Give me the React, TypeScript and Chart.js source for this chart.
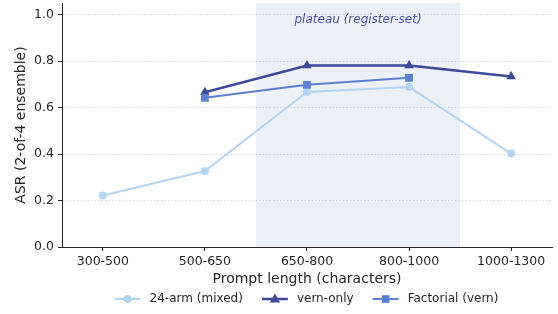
import React, { useEffect, useRef } from "react";
import { Chart, registerables } from "chart.js";

Chart.register(...registerables);

const categories = ["300-500", "500-650", "650-800", "800-1000", "1000-1300"];
const armMixed = [0.222, 0.327, 0.667, 0.688, 0.402];
const vernOnly = [null, 0.666, 0.781, 0.781, 0.734];
const factorialVern = [null, 0.642, 0.698, 0.728, null];
const yTicks = [0, 0.2, 0.4, 0.6, 0.8, 1.0];
const seriesNames = ["24-arm (mixed)", "vern-only", "Factorial (vern)"];
const plateauLabel = "plateau (register-set)";
const plateauRange = [1.5, 3.5];

const C_LIGHT = "#b5d4f4";
const C_DARK = "#3d4a9a";
const C_MED = "#5b80d1";
const TEXT = "#262626";
const FONT = "'DejaVu Sans', sans-serif";

function drawMarker(ctx: CanvasRenderingContext2D, style: string, x: number, y: number, r: number, color: string) {
  ctx.save();
  ctx.fillStyle = color;
  ctx.beginPath();
  if (style === "circle") {
    ctx.arc(x, y, r, 0, Math.PI * 2);
  } else if (style === "triangle") {
    ctx.moveTo(x, y - r);
    ctx.lineTo(x + r * 0.95, y + r * 0.65);
    ctx.lineTo(x - r * 0.95, y + r * 0.65);
    ctx.closePath();
  } else {
    const s = r * 0.85;
    ctx.rect(x - s, y - s, 2 * s, 2 * s);
  }
  ctx.fill();
  ctx.restore();
}

const decorPlugin = {
  id: "decor",
  beforeDraw(chart: any) {
    const { ctx, chartArea, scales } = chart;
    const x0 = scales.x.getPixelForValue(plateauRange[0]);
    const x1 = scales.x.getPixelForValue(plateauRange[1]);
    ctx.save();
    ctx.fillStyle = "#ebf1f7";
    ctx.fillRect(x0, chartArea.top, x1 - x0, chartArea.bottom - chartArea.top);
    ctx.restore();
  },
  afterDraw(chart: any) {
    const { ctx, scales } = chart;
    ctx.save();
    ctx.font = `italic 12px ${FONT}`;
    ctx.fillStyle = "#4a55a2";
    ctx.textAlign = "center";
    ctx.textBaseline = "middle";
    ctx.fillText(plateauLabel, scales.x.getPixelForValue((plateauRange[0] + plateauRange[1]) / 2), scales.y.getPixelForValue(0.978));
    ctx.restore();

    // legend
    const items = [
      { name: seriesNames[0], color: C_LIGHT, marker: "circle", lw: 2, r: 4 },
      { name: seriesNames[1], color: C_DARK, marker: "triangle", lw: 2.5, r: 5.5 },
      { name: seriesNames[2], color: C_MED, marker: "rect", lw: 2, r: 4.5 },
    ];
    ctx.save();
    ctx.font = `12px ${FONT}`;
    const lineW = 26;
    const gapLT = 9;
    const gapItems = 19;
    let total = 0;
    items.forEach((it, i) => {
      total += lineW + gapLT + ctx.measureText(it.name).width;
      if (i < items.length - 1) total += gapItems;
    });
    let x = 306.5 - total / 2;
    const y = 299;
    items.forEach((it) => {
      ctx.strokeStyle = it.color;
      ctx.lineWidth = it.lw;
      ctx.beginPath();
      ctx.moveTo(x, y);
      ctx.lineTo(x + lineW, y);
      ctx.stroke();
      drawMarker(ctx, it.marker, x + lineW / 2, y, it.r, it.color);
      x += lineW + gapLT;
      ctx.fillStyle = TEXT;
      ctx.textAlign = "left";
      ctx.textBaseline = "middle";
      ctx.fillText(it.name, x, y);
      x += ctx.measureText(it.name).width + gapItems;
    });
    ctx.restore();
  },
};

export default function App() {
  const ref = useRef<HTMLCanvasElement>(null);
  useEffect(() => {
    const toPts = (arr: (number | null)[]) => arr.map((v, i) => ({ x: i, y: v }));
    const chart = new Chart(ref.current as HTMLCanvasElement, {
      type: "line",
      data: {
        datasets: [
          {
            label: seriesNames[0],
            data: toPts(armMixed) as any,
            borderColor: C_LIGHT,
            backgroundColor: C_LIGHT,
            borderWidth: 2,
            pointStyle: "circle",
            pointRadius: 4,
            pointBorderWidth: 0,
            order: 3,
          },
          {
            label: seriesNames[1],
            data: toPts(vernOnly) as any,
            borderColor: C_DARK,
            backgroundColor: C_DARK,
            borderWidth: 2.5,
            pointStyle: "triangle",
            pointRadius: 5.5,
            pointBorderWidth: 0,
            order: 2,
          },
          {
            label: seriesNames[2],
            data: toPts(factorialVern) as any,
            borderColor: C_MED,
            backgroundColor: C_MED,
            borderWidth: 2,
            pointStyle: "rect",
            pointRadius: 5.5,
            pointBorderWidth: 0,
            order: 1,
          },
        ],
      },
      options: {
        animation: false,
        responsive: false,
        maintainAspectRatio: false,
        layout: { autoPadding: false, padding: { left: 0, right: 6, top: 3, bottom: 0 } },
        plugins: { legend: { display: false }, tooltip: { enabled: false } },
        elements: { line: { tension: 0 } },
        scales: {
          x: {
            type: "linear",
            min: -0.4,
            max: 4.4,
            afterBuildTicks: (s: any) => {
              s.ticks = categories.map((_, i) => ({ value: i }));
            },
            afterFit: (s: any) => {
              s.height = 67;
              s.paddingLeft = 0;
              s.paddingRight = 0;
            },
            ticks: {
              callback: (v: any) => categories[v],
              font: { family: FONT, size: 12.5 },
              color: TEXT,
              padding: 3,
              maxRotation: 0,
              autoSkip: false,
            },
            grid: {
              drawOnChartArea: false,
              drawTicks: true,
              tickLength: 4,
              tickColor: TEXT,
              tickWidth: 1,
            },
            border: { display: true, color: TEXT, width: 1 },
            title: {
              display: true,
              text: "Prompt length (characters)",
              font: { family: FONT, size: 14 },
              color: TEXT,
              padding: { top: 0, bottom: 26 },
            },
          },
          y: {
            type: "linear",
            min: 0,
            max: 1.05,
            afterBuildTicks: (s: any) => {
              s.ticks = yTicks.map((v) => ({ value: v }));
            },
            afterFit: (s: any) => {
              s.width = 62;
              s.paddingTop = 0;
              s.paddingBottom = 0;
            },
            ticks: {
              callback: (v: any) => Number(v).toFixed(1),
              font: { family: FONT, size: 12.5 },
              color: TEXT,
              padding: 4,
            },
            grid: {
              color: "#cccccc",
              lineWidth: 0.8,
              drawTicks: true,
              tickLength: 4,
              tickColor: TEXT,
              tickWidth: 1,
              tickBorderDash: [],
            },
            border: { display: true, color: TEXT, width: 1, dash: [1.5, 2] },
            title: {
              display: true,
              text: "ASR (2-of-4 ensemble)",
              font: { family: FONT, size: 14 },
              color: TEXT,
              padding: { top: 13, bottom: 0 },
            },
          },
        },
      },
      plugins: [decorPlugin],
    });
    return () => chart.destroy();
  }, []);
  return (
    <div style={{ position: "fixed", left: 0, top: 0, width: 558, height: 314, background: "#fff" }}>
      <canvas ref={ref} width={558} height={314} style={{ display: "block", width: 558, height: 314 }} />
    </div>
  );
}
